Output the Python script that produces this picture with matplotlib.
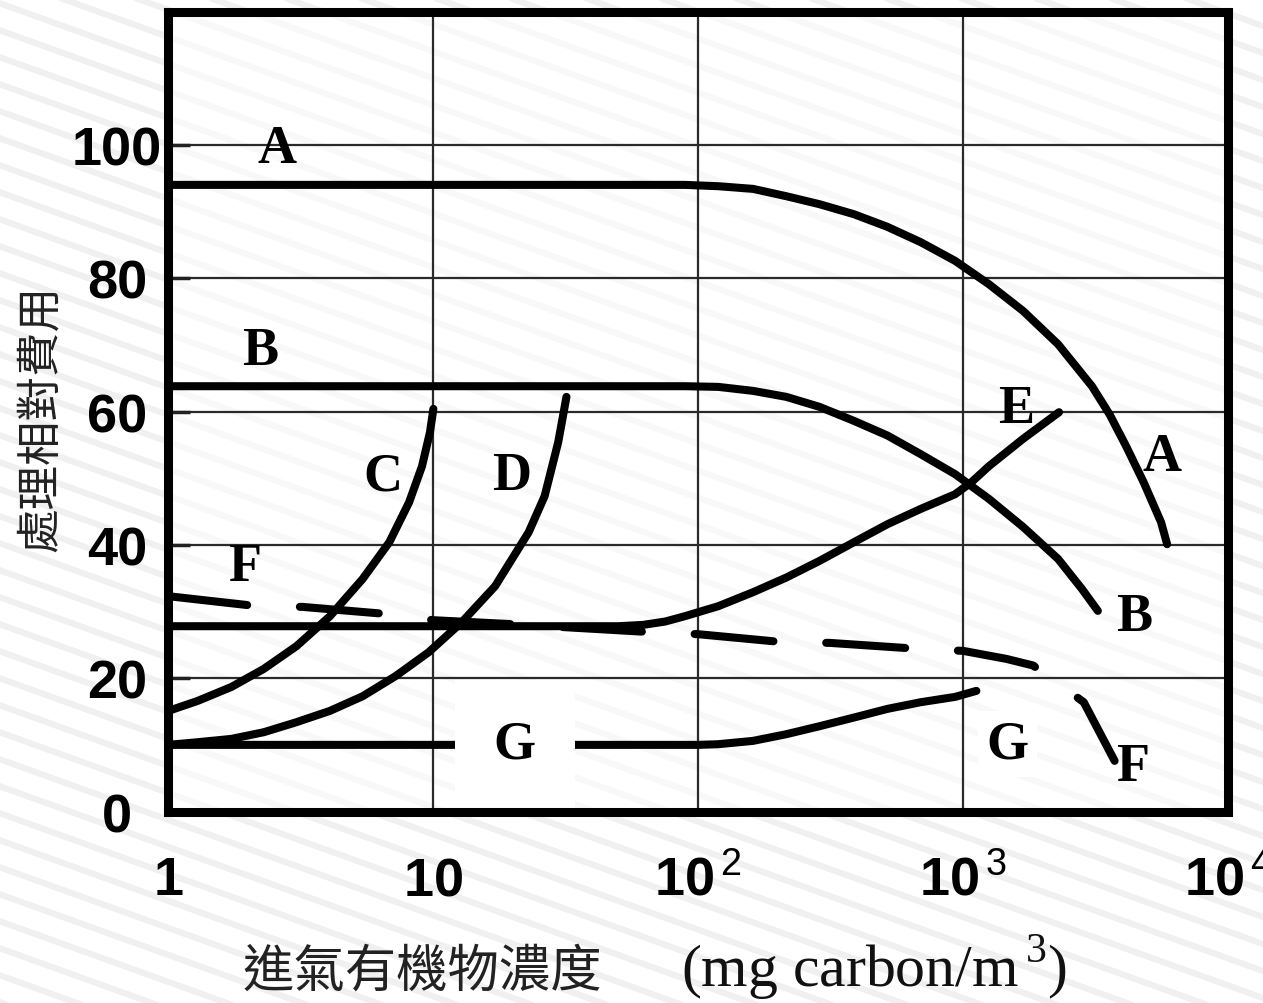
import numpy as np
import matplotlib
matplotlib.use("Agg")
import matplotlib.pyplot as plt
from matplotlib.lines import Line2D
from matplotlib.ticker import NullLocator

plt.rcParams['lines.scale_dashes'] = False
plt.rcParams['mathtext.fontset'] = 'custom'
plt.rcParams['mathtext.rm'] = 'Liberation Serif'
plt.rcParams['mathtext.bf'] = 'Liberation Sans:bold'
plt.rcParams['mathtext.sf'] = 'Liberation Sans'

# ---- curves: relative treatment cost vs inlet organic concentration ----
A_x = [1, 89, 119, 161, 215, 287, 387, 518, 692, 933, 1251, 1683, 2282, 3064,
       3569, 4124, 4801, 5588, 5890]
A_y = [94, 94, 93.8, 93.4, 92.3, 91.1, 89.6, 87.7, 85.4, 82.6, 79.1, 75.1, 70.1,
       63.8, 59.6, 54.8, 49.4, 43.4, 40.1]

B_x = [1, 89, 119, 161, 215, 287, 387, 518, 692, 933, 1251, 1683, 2282, 2807, 3226]
B_y = [63.8, 63.8, 63.7, 63.1, 62.2, 60.7, 58.6, 56.4, 53.6, 50.6, 46.9, 42.7,
       37.9, 33.4, 30.1]

C_x = [1, 1.29, 1.73, 2.29, 3.04, 4.07, 5.41, 6.82, 8.1, 9.06, 9.71, 10.0]
C_y = [15.1, 16.6, 18.7, 21.4, 24.8, 29.3, 34.9, 40.4, 46.4, 51.8, 56.9, 60.4]

D_x = [1, 1.29, 1.73, 2.29, 3.04, 4.07, 5.41, 7.19, 9.6, 12.8, 17.1, 22.9,
       26.3, 29.6, 31.8]
D_y = [10, 10.4, 10.9, 11.9, 13.4, 15.1, 17.3, 20.3, 23.9, 28.4, 33.8, 41.9,
       47.3, 55.4, 62.2]

E_x = [1, 50, 62, 75, 89, 119, 161, 215, 287, 387, 518, 692, 933, 1075, 1251,
       1683, 2302]
E_y = [27.8, 27.8, 28.0, 28.5, 29.3, 30.8, 32.9, 35.1, 37.6, 40.4, 43.1, 45.4,
       47.6, 49.4, 51.8, 55.9, 59.9]

F_x = [1, 2.17, 3.2, 6.8, 10, 20, 67, 100, 210, 313, 680, 1000, 1456, 1841,
       2013, 2400, 2853, 3732]
F_y = [32.3, 30.8, 30.7, 29.6, 28.7, 28.1, 26.9, 26.6, 25.4, 25.3, 24.4, 24.1,
       22.9, 21.9, 20.6, 18.6, 16.4, 7.6]

G_x = [1, 100, 119, 161, 215, 287, 387, 518, 692, 933, 1122]
G_y = [10, 10, 10.1, 10.6, 11.6, 12.8, 14.1, 15.4, 16.4, 17.2, 18.1]

# curve letters
label_text = ['A', 'B', 'C', 'D', 'E', 'F', 'G', 'A', 'B', 'F', 'G']
label_x = [2.57, 2.21, 6.45, 19.8, 1592, 1.94, 20.3, 5620, 4440, 4365, 1472]
label_y = [99.4, 69.1, 50.3, 50.3, 60.4, 36.7, 10.1, 53.2, 29.2, 6.7, 10.1]
label_pad = [0, 0, 0, 0, 0, 0, 0.72, 0, 0, 0, 0.15]

y_ticks = [0, 20, 40, 60, 80, 100]
y_tick_labels = ['0', '20', '40', '60', '80', '100']
x_ticks = [1, 10, 100, 1000, 10000]
x_tick_labels = [r'$\mathbf{1}$', r'$\mathbf{10}$', r'$\mathbf{10}^{\,\mathsf{2}}$',
                 r'$\mathbf{10}^{\,\mathsf{3}}$', r'$\mathbf{10}^{\,\mathsf{4}}$']

fig = plt.figure(figsize=(12.63, 10.04), dpi=100)
fig.patch.set_facecolor('white')

# faint diagonal slide backdrop
W, H = 1263.0, 1004.0
drop = 0.36 * W
for k in range(-5, 80):
    y0 = (H + drop) - k * 27.0
    fig.add_artist(Line2D([0, 1], [y0 / H, (y0 - drop) / H],
                          transform=fig.transFigure, color='#f0f0f0',
                          lw=4.5, zorder=-10))

ax = fig.add_axes([0.1334, 0.1907, 0.8389, 0.7968])
ax.set_facecolor((1, 1, 1, 0.55))

ax.set_xscale('log')
ax.set_xlim(1, 1e4)
ax.set_ylim(0, 120)
ax.xaxis.set_minor_locator(NullLocator())
ax.set_xticks(x_ticks)
ax.set_xticklabels(x_tick_labels)
ax.set_yticks(y_ticks)
ax.set_yticklabels(y_tick_labels, fontfamily='Liberation Sans', fontweight='bold')
ax.grid(True, which='major', color='#2a2a2a', lw=1.6, zorder=1)
ax.set_axisbelow(True)

ax.tick_params(axis='y', direction='in', length=16, width=2.5, pad=37,
               labelsize=39, color='#222')
ax.tick_params(axis='x', direction='in', length=0, pad=30, labelsize=39)
for lbl in ax.get_yticklabels():
    lbl.set_horizontalalignment('center')

for sp in ax.spines.values():
    sp.set_linewidth(6.5)
    sp.set_color('black')
    sp.set_zorder(6)

lw = 5.8
for xs, ys in [(A_x, A_y), (B_x, B_y), (C_x, C_y), (D_x, D_y), (E_x, E_y), (G_x, G_y)]:
    ax.plot(xs, ys, color='black', lw=lw, solid_capstyle='round',
            solid_joinstyle='round', zorder=3)
ax.plot(F_x, F_y, color='black', lw=lw, linestyle=(0, (57, 38)),
        dash_capstyle='round', dash_joinstyle='round', zorder=3)

for t, x, y, p in zip(label_text, label_x, label_y, label_pad):
    kw = {}
    if p > 0:
        kw['bbox'] = dict(boxstyle=f'square,pad={p}', facecolor='white',
                          edgecolor='none')
    ax.text(x, y, t, fontfamily='Liberation Serif', fontweight='bold',
            fontsize=39, ha='center', va='center', zorder=4, **kw)

ax.set_ylabel('處理相對費用', fontfamily=['Noto Sans CJK TC', 'DejaVu Sans'],
              fontsize=32, color='#222')
ax.yaxis.set_label_coords(-0.1213, 0.493)
ax.yaxis.label.set_va('center')

ax.set_xlabel('進氣有機物濃度', fontfamily=['Noto Sans CJK TC', 'DejaVu Sans'],
              fontsize=37, color='#222')
ax.xaxis.set_label_coords(0.2393, -0.1994)
ax.xaxis.label.set_va('center')
ax.text(0.666, -0.1944, r'(mg carbon/m$^{\,\mathrm{3}}$)', transform=ax.transAxes,
        fontfamily='Liberation Serif', fontsize=43, ha='center', va='center',
        color='#111')

fig.savefig('out.png', dpi=100, facecolor=fig.get_facecolor())
